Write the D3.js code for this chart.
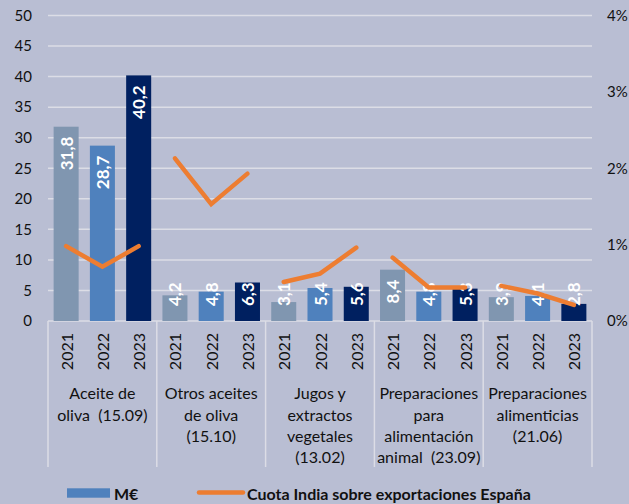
<!DOCTYPE html>
<html>
<head>
<meta charset="utf-8">
<script src="https://cdn.jsdelivr.net/npm/d3@7"></script>
<style>
  body { margin: 0; background: #b9bed3; }
  svg { display: block; }
  text { white-space: pre; }
</style>
</head>
<body>
<script>
// datos
var categories = ['Aceite de oliva', 'Otros aceites de oliva', 'Jugos y extractos vegetales',
  'Preparaciones para alimentación animal', 'Preparaciones alimenticias'];
var categoryLines = [
  ['Aceite de', 'oliva  (15.09)'],
  ['Otros aceites', 'de oliva', '(15.10)'],
  ['Jugos y', 'extractos', 'vegetales', '(13.02)'],
  ['Preparaciones', 'para', 'alimentación', 'animal  (23.09)'],
  ['Preparaciones', 'alimenticias', '(21.06)']
];
var years = ['2021', '2022', '2023'];
var valores = [
  [31.8, 28.7, 40.2],
  [4.2, 4.8, 6.3],
  [3.1, 5.4, 5.6],
  [8.4, 4.8, 5.3],
  [3.9, 4.1, 2.8]
];
var cuota = [
  [0.0098, 0.0071, 0.0098],
  [0.0213, 0.0153, 0.0193],
  [0.0051, 0.0062, 0.0096],
  [0.0083, 0.0044, 0.0044],
  [0.0046, 0.0036, 0.0021]
];
var leftTicks = [0, 5, 10, 15, 20, 25, 30, 35, 40, 45, 50];
var rightTicks = [0, 0.01, 0.02, 0.03, 0.04];
var legendLabels = ['M€', 'Cuota India sobre exportaciones España'];

var colors = { '2021': '#8096b0', '2022': '#4f81bd', '2023': '#002060' };
var lineColor = '#ed7d31';
var gridColor = '#dcdde6';
var font = 'Lato, "Open Sans", sans-serif';

var width = 629, height = 504;

var svg = d3.select('body').append('svg')
  .attr('width', width)
  .attr('height', height)
  .style('font-family', font);

var x0 = d3.scaleBand().domain(d3.range(categories.length)).range([48, 592]);
var x1 = d3.scaleBand().domain(years).range([0, x0.bandwidth()])
  .paddingInner(0.31).paddingOuter(0.155);
var y = d3.scaleLinear().domain([0, 50]).range([321, 15.5]);
var y2 = d3.scaleLinear().domain([0, 0.04]).range([321, 15.5]);

// grid
svg.append('g').selectAll('line')
  .data(leftTicks.slice(1))
  .enter().append('line')
  .attr('x1', 48).attr('x2', 592)
  .attr('y1', function(d) { return y(d); })
  .attr('y2', function(d) { return y(d); })
  .attr('stroke', gridColor)
  .attr('stroke-width', 1.5);

// axes
var leftAxis = svg.append('g')
  .attr('transform', 'translate(48,0)')
  .call(d3.axisLeft(y).tickValues(leftTicks).tickSize(0).tickPadding(16));
var rightAxis = svg.append('g')
  .attr('transform', 'translate(592,0)')
  .call(d3.axisRight(y2).tickValues(rightTicks).tickSize(0).tickPadding(15)
    .tickFormat(d3.format('.0%')));
[leftAxis, rightAxis].forEach(function(a) {
  a.select('.domain').remove();
  a.selectAll('text')
    .style('font-family', font)
    .style('font-size', '15px')
    .attr('fill', '#111');
});

// baseline + separators
svg.append('line')
  .attr('x1', 48).attr('x2', 592)
  .attr('y1', y(0)).attr('y2', y(0))
  .attr('stroke', gridColor).attr('stroke-width', 1.5);

var seps = d3.range(categories.length).map(function(i) { return x0(i); }).concat([x0.range()[1]]);
svg.append('g').selectAll('line')
  .data(seps)
  .enter().append('line')
  .attr('x1', function(d) { return d; })
  .attr('x2', function(d) { return d; })
  .attr('y1', y(0)).attr('y2', 467)
  .attr('stroke', gridColor)
  .attr('stroke-width', 1.5);

// bars
var groups = svg.append('g').selectAll('g')
  .data(valores)
  .enter().append('g')
  .attr('transform', function(d, i) { return 'translate(' + x0(i) + ',0)'; });

groups.selectAll('rect')
  .data(function(d) { return d.map(function(v, j) { return { year: years[j], value: v }; }); })
  .enter().append('rect')
  .attr('x', function(d) { return x1(d.year); })
  .attr('width', x1.bandwidth())
  .attr('y', function(d) { return y(d.value); })
  .attr('height', function(d) { return y(0) - y(d.value); })
  .attr('fill', function(d) { return colors[d.year]; });

// year labels
groups.selectAll('text.year')
  .data(years)
  .enter().append('text')
  .attr('class', 'year')
  .attr('transform', function(d) {
    return 'translate(' + (x1(d) + x1.bandwidth() / 2) + ',333) rotate(-90)';
  })
  .attr('text-anchor', 'end')
  .attr('dominant-baseline', 'central')
  .style('font-size', '16px')
  .attr('fill', '#111')
  .text(function(d) { return d; });

// bar labels
groups.selectAll('text.val')
  .data(function(d) { return d.map(function(v, j) { return { year: years[j], value: v }; }); })
  .enter().append('text')
  .attr('class', 'val')
  .attr('dominant-baseline', 'central')
  .attr('fill', '#fff')
  .style('font-size', '17px')
  .style('font-weight', 'bold')
  .text(function(d) { return String(d.value).replace('.', ','); })
  .each(function(d) {
    var len = this.getComputedTextLength();
    var cx = x1(d.year) + x1.bandwidth() / 2;
    var top = y(d.value) + 10;
    var anchor = 'end';
    var pos = top;
    if (top + len > 306) { anchor = 'start'; pos = 306; }
    d3.select(this)
      .attr('text-anchor', anchor)
      .attr('transform', 'translate(' + cx + ',' + pos + ') rotate(-90)');
  });

// cuota lines
var line = d3.line()
  .x(function(d, j) { return x1(years[j]) + x1.bandwidth() / 2; })
  .y(function(d) { return y2(d); });

groups.append('path')
  .datum(function(d, i) { return cuota[i]; })
  .attr('d', line)
  .attr('fill', 'none')
  .attr('stroke', lineColor)
  .attr('stroke-width', 4.5)
  .attr('stroke-linecap', 'round')
  .attr('stroke-linejoin', 'miter');

// category labels
svg.append('g').selectAll('text')
  .data(categoryLines)
  .enter().append('text')
  .attr('text-anchor', 'middle')
  .style('font-size', '16px')
  .attr('fill', '#111')
  .each(function(lines, i) {
    var t = d3.select(this);
    lines.forEach(function(s, k) {
      t.append('tspan')
        .attr('x', x0(i) + x0.bandwidth() / 2)
        .attr('y', 392.7 + k * 21.4)
        .attr('dominant-baseline', 'central')
        .text(s);
    });
  });

// legend
var legend = svg.append('g').style('font-weight', 'bold').style('font-size', '16px');
legend.append('rect')
  .attr('x', 67).attr('y', 488.3).attr('width', 43).attr('height', 9.4)
  .attr('fill', colors['2022']);
legend.append('text')
  .attr('x', 114).attr('y', 493)
  .attr('dominant-baseline', 'central')
  .attr('fill', '#111')
  .text(legendLabels[0]);
legend.append('line')
  .attr('x1', 199).attr('x2', 243)
  .attr('y1', 492.5).attr('y2', 492.5)
  .attr('stroke', lineColor).attr('stroke-width', 4.5)
  .attr('stroke-linecap', 'round');
legend.append('text')
  .attr('x', 247).attr('y', 493)
  .attr('dominant-baseline', 'central')
  .attr('fill', '#111')
  .text(legendLabels[1]);
</script>
</body>
</html>
